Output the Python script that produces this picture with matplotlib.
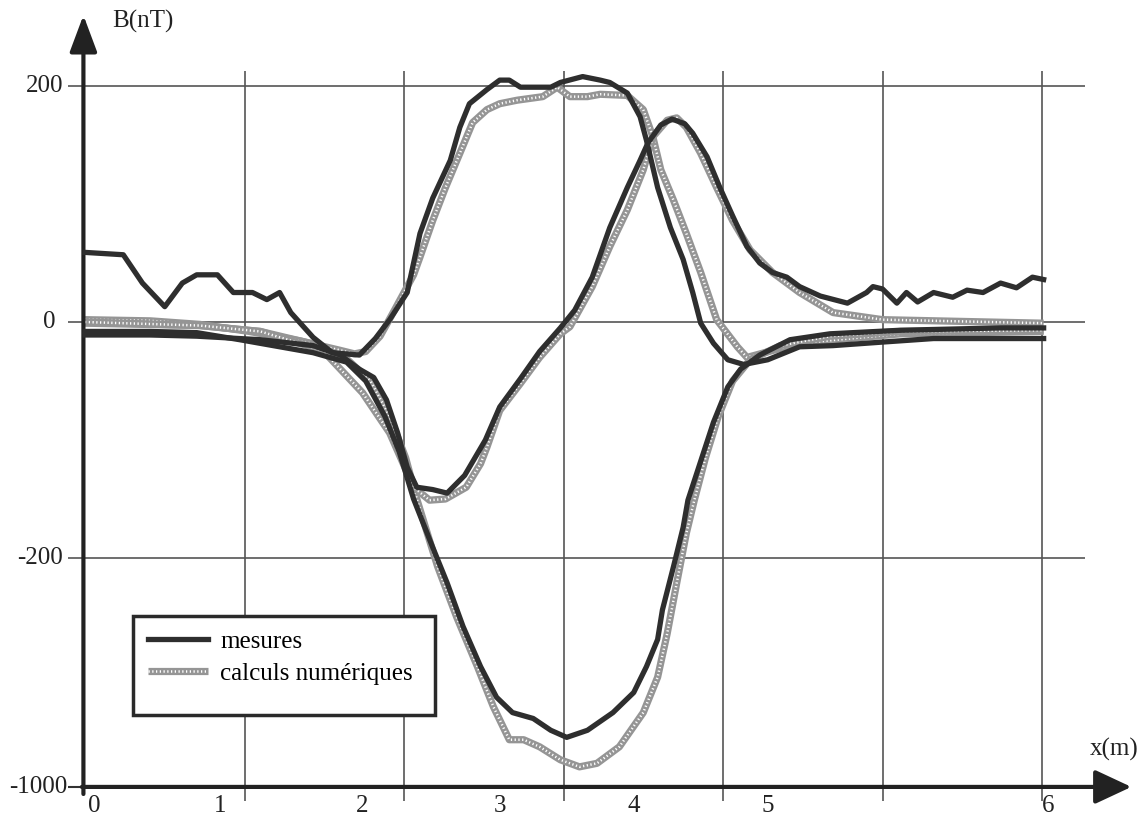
import matplotlib
matplotlib.use("Agg")
import matplotlib.pyplot as plt
from matplotlib.patches import Rectangle

plt.rcParams['font.family'] = ['Liberation Serif', 'DejaVu Serif']

# --- data (x in m, B in nT) ---
# plateau component, measured
m1_x = [0, 0.24, 0.36, 0.50, 0.61, 0.70, 0.83, 0.93, 1.05, 1.14, 1.22, 1.29, 1.43, 1.55, 1.72,
        1.82, 1.91, 2.02, 2.06, 2.10, 2.18, 2.29, 2.35, 2.41, 2.52, 2.60, 2.66, 2.73, 2.92, 2.98,
        3.12, 3.23, 3.29, 3.40, 3.48, 3.52, 3.59, 3.67, 3.75, 3.81, 3.86, 3.94, 4.03, 4.13, 4.28,
        4.48, 4.69, 5.00, 5.32, 5.74, 6.01]
m1_y = [59, 57, 33, 13, 33, 40, 40, 25, 25, 19, 25, 8, -13, -26, -28,
        -14, 2, 25, 50, 75, 105, 137, 165, 185, 197, 205, 205, 199, 199, 203,
        208, 205, 203, 194, 174, 154, 114, 80, 53, 25, -1, -18, -32, -36, -32,
        -21, -20, -17, -14, -14, -14]
# trough component, measured
m2_x = [0, 0.41, 0.70, 0.97, 1.43, 1.64, 1.76, 1.88, 1.97, 2.06, 2.18, 2.27, 2.37, 2.48, 2.58,
        2.68, 2.81, 2.92, 3.02, 3.15, 3.31, 3.44, 3.52, 3.59, 3.62, 3.69, 3.75, 3.78, 3.86, 3.94,
        4.03, 4.11, 4.23, 4.42, 4.67, 5.11, 5.74, 6.01]
m2_y = [-8, -8, -9, -15, -26, -34, -50, -80, -110, -150, -191, -221, -258, -292, -318,
        -331, -336, -346, -352, -346, -331, -314, -292, -269, -244, -207, -174, -151, -118, -85,
        -55, -40, -28, -15, -10, -7, -5, -5]
# antisymmetric component, measured
m3_x = [0, 0.41, 0.70, 1.10, 1.43, 1.60, 1.72, 1.81, 1.89, 1.96, 2.02, 2.08, 2.18, 2.27, 2.38,
        2.51, 2.60, 2.73, 2.85, 2.98, 3.07, 3.18, 3.29, 3.40, 3.48, 3.53, 3.61, 3.68, 3.76, 3.81,
        3.90, 3.98, 4.06, 4.15, 4.23, 4.31, 4.40, 4.48, 4.61, 4.78, 4.90, 4.94, 5.00, 5.09, 5.15,
        5.22, 5.32, 5.44, 5.53, 5.63, 5.74, 5.84, 5.94, 6.01]
m3_y = [-11, -11, -12, -15, -20, -28, -40, -47, -66, -94, -123, -140, -142, -145, -130,
        -100, -72, -48, -25, -5, 10, 38, 80, 114, 137, 152, 167, 172, 168, 160,
        140, 114, 90, 64, 50, 42, 38, 30, 22, 16, 25, 30, 28, 16, 25,
        17, 25, 21, 27, 25, 33, 29, 38, 36]

# numerical calculations
c1_x = [0, 0.41, 0.72, 1.03, 1.35, 1.60, 1.69, 1.76, 1.85, 1.94, 2.06, 2.10, 2.18, 2.26, 2.35,
        2.43, 2.52, 2.60, 2.71, 2.87, 2.96, 3.04, 3.15, 3.23, 3.40, 3.50, 3.56, 3.61, 3.69, 3.77,
        3.86, 3.96, 4.09, 4.15, 4.48, 5.11, 6.01]
c1_y = [2, 1, -2, -8, -16, -24, -27, -25, -12, 10, 40, 55, 86, 114, 143,
        169, 180, 185, 188, 191, 199, 191, 191, 193, 192, 180, 157, 129, 103, 75,
        42, 2, -21, -30, -18, -10, -8]
c2_x = [0, 0.72, 1.10, 1.41, 1.63, 1.79, 1.91, 2.01, 2.08, 2.21, 2.33, 2.46, 2.56, 2.66, 2.75,
        2.85, 2.98, 3.10, 3.21, 3.35, 3.50, 3.59, 3.65, 3.71, 3.77, 3.82, 3.89, 3.97, 4.06, 4.17,
        4.36, 4.67, 5.11, 6.01]
c2_y = [-1, -3, -8, -18, -30, -50, -80, -115, -150, -207, -250, -292, -326, -354, -354,
        -360, -371, -377, -374, -360, -331, -301, -264, -221, -179, -151, -115, -80, -50, -32,
        -20, -12, -8, -7]
c3_x = [0, 0.72, 1.10, 1.49, 1.74, 1.91, 2.06, 2.16, 2.26, 2.39, 2.48, 2.52, 2.60, 2.73, 2.85,
        2.98, 3.04, 3.18, 3.29, 3.40, 3.50, 3.56, 3.65, 3.71, 3.77, 3.86, 3.96, 4.06, 4.17, 4.31,
        4.48, 4.69, 5.00, 6.01]
c3_y = [0, -3, -8, -24, -60, -94, -140, -151, -150, -140, -120, -106, -75, -52, -30,
        -10, -4, 30, 64, 95, 129, 157, 171, 173, 165, 143, 114, 86, 61, 42,
        25, 8, 2, -1]

xtick_pos = [0.06, 0.85, 1.74, 2.60, 3.44, 4.28, 6.04]
xtick_text = ['0', '1', '2', '3', '4', '5', '6']
ytick_pos = [200, 0, -200, -394]
ytick_text = ['200', '0', '-200', '-1000']
grid_x = [1, 2, 3, 4, 5, 6]
grid_y = [200, 0, -200]

dark = '#2e2e2e'
grey = '#959595'
ink = '#222222'

fig = plt.figure(figsize=(11.43, 8.34), dpi=100)
ax = fig.add_axes([0, 0, 1, 1])
ax.set_xlim(-0.533, 6.633)
ax.set_ylim(-433.9, 272.9)
ax.axis('off')

# grid
ax.hlines(grid_y, -0.107, 6.27, color='#555555', lw=1.2, zorder=1)
ax.hlines([-394], -0.107, 0, color='#333333', lw=1.5, zorder=1)
ax.vlines(grid_x, -406, 213, color='#555555', lw=1.2, zorder=1)

# axes with arrows
ax.annotate('', xy=(6.56, -394), xytext=(-0.02, -394),
            arrowprops=dict(arrowstyle='-|>,head_length=0.75,head_width=0.35',
                            lw=3, color=ink, mutation_scale=30, shrinkA=0, shrinkB=0))
ax.annotate('', xy=(-0.01, 260), xytext=(-0.01, -400),
            arrowprops=dict(arrowstyle='-|>,head_length=0.75,head_width=0.28',
                            lw=3, color=ink, mutation_scale=30, shrinkA=0, shrinkB=0))


def calc_line(x, y):
    base, = ax.plot(x, y, color=grey, lw=5.2, solid_capstyle='butt', zorder=2)
    dots, = ax.plot(x, y, color='white', lw=1.8, ls=(0, (0.5, 1.0)), zorder=2)
    return base, dots


for cx, cy in [(c1_x, c1_y), (c2_x, c2_y), (c3_x, c3_y)]:
    h_calc = calc_line(cx, cy)

for mx, my in [(m1_x, m1_y), (m2_x, m2_y), (m3_x, m3_y)]:
    h_mes, = ax.plot(mx, my, color=dark, lw=3.8, zorder=3, solid_joinstyle='round')

# tick labels
for xp, t in zip(xtick_pos, xtick_text):
    ax.text(xp, -410, t, ha='center', va='center', fontsize=18, color=ink)
ylabel_right_px = [63, 55, 63, 67]
for yp, t, r in zip(ytick_pos, ytick_text, ylabel_right_px):
    ax.text((r - 85) / 159.5, yp, t, ha='right', va='center', fontsize=18, color=ink)

ax.text(0.17, 255, 'B(nT)', ha='left', va='center', fontsize=18, color=ink)
ax.text(6.30, -362, 'x(m)', ha='left', va='center', fontsize=18, color=ink)

# legend
ax.add_patch(Rectangle((133 / 1143, 1 - 715 / 834), 302 / 1143, 99 / 834,
                       transform=fig.transFigure, facecolor='white',
                       edgecolor='#2a2a2a', lw=2.5, zorder=6))
leg = ax.legend([h_mes, h_calc], ['mesures', 'calculs numériques'],
                loc='upper left', bbox_to_anchor=(148 / 1143, 1 - 630 / 834),
                bbox_transform=fig.transFigure, frameon=False, fontsize=18,
                borderpad=0, borderaxespad=0, handlelength=2.4, handletextpad=0.5,
                labelspacing=0.4)
leg.set_zorder(7)

fig.savefig('out.png', dpi=100)
